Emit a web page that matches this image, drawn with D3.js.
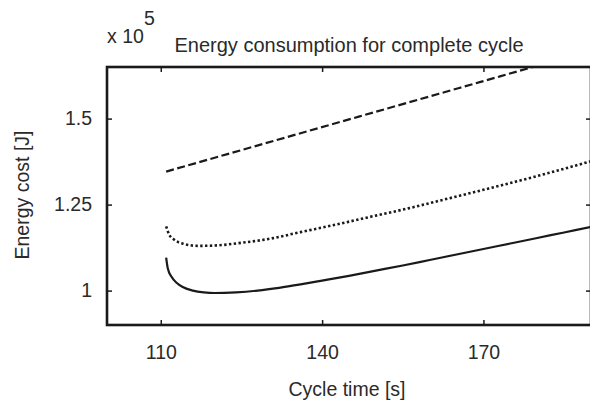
<!DOCTYPE html>
<html>
  <head>
    <meta charset="utf-8" />
    <script src="https://d3js.org/d3.v7.min.js"></script>
    <style>
      body { margin: 0; background: #fff; }
      text { font-family: "Liberation Sans", Arial, sans-serif; fill: #2a2a2a; }
    </style>
  </head>
  <body>
    <svg id="chart" width="590" height="400"></svg>
    <script>
      // cycle time [s] and energy cost [x 10^5 J]
      var solidT = [111, 111.3, 112, 113, 114, 116, 118, 120, 124, 128, 132, 136, 140, 145, 150, 155, 160, 165, 170, 175, 180, 185, 190];
      var solidE = [1.096, 1.065, 1.04, 1.022, 1.011, 1.0, 0.995, 0.993, 0.995, 1.0, 1.008, 1.018, 1.029, 1.043, 1.058, 1.073, 1.089, 1.105, 1.121, 1.137, 1.153, 1.169, 1.185];

      var dottedT = [111, 111.5, 112.5, 114, 117, 120, 125, 130, 136, 142, 150, 156, 162, 170, 180, 190];
      var dottedE = [1.187, 1.165, 1.148, 1.137, 1.130, 1.131, 1.139, 1.150, 1.170, 1.190, 1.218, 1.239, 1.262, 1.293, 1.333, 1.376];

      var dashedT = [111, 154.5, 179.2, 190];
      var dashedE = [1.346, 1.54, 1.65, 1.698];

      var xTicks = [110, 140, 170];
      var yTicks = [1, 1.25, 1.5];
      var yTickLabels = ["1", "1.25", "1.5"];

      var svg = d3.select("#chart");
      var mLeft = 107, mRight = 591, mTop = 67, mBottom = 325;
      var fs = 19.5;

      var x = d3.scaleLinear().domain([100, 190]).range([mLeft, mRight]);
      var y = d3.scaleLinear().domain([0.9, 1.65]).range([mBottom, mTop]);

      svg.append("clipPath").attr("id", "plot")
        .append("rect")
        .attr("x", mLeft).attr("y", mTop)
        .attr("width", mRight - mLeft).attr("height", mBottom - mTop);

      var line = d3.line()
        .x(function(d) { return x(d[0]); })
        .y(function(d) { return y(d[1]); })
        .curve(d3.curveMonotoneX);

      function zip(a, b) {
        return a.map(function(v, i) { return [v, b[i]]; });
      }

      var series = [
        { pts: zip(solidT, solidE), dash: null, w: 2.2 },
        { pts: zip(dottedT, dottedE), dash: "2.4,2.4", w: 2.6 },
        { pts: zip(dashedT, dashedE), dash: "8,3.5", w: 2.2 }
      ];

      svg.append("g").attr("clip-path", "url(#plot)")
        .selectAll("path")
        .data(series)
        .enter().append("path")
        .attr("d", function(d) { return line(d.pts); })
        .attr("fill", "none")
        .attr("stroke", "#1a1a1a")
        .attr("stroke-width", function(d) { return d.w; })
        .attr("stroke-dasharray", function(d) { return d.dash; });

      // axes (ticks pointing inward, box style)
      var tickLen = 5;
      var bottomAxis = d3.axisBottom(x).tickValues(xTicks).tickSize(-tickLen).tickPadding(20).tickFormat(d3.format("d"));
      var topAxis = d3.axisTop(x).tickValues(xTicks).tickSize(-tickLen).tickFormat("");
      var leftAxis = d3.axisLeft(y).tickValues(yTicks).tickSize(-tickLen).tickPadding(15)
        .tickFormat(function(d, i) { return yTickLabels[i]; });
      var rightAxis = d3.axisRight(y).tickValues(yTicks).tickSize(-tickLen).tickFormat("");

      function style(g) {
        g.select(".domain").remove();
        g.selectAll(".tick line").attr("stroke", "#1a1a1a").attr("stroke-width", 1.5);
        g.selectAll(".tick text").attr("font-size", fs).attr("font-family", "Liberation Sans, Arial, sans-serif").attr("fill", "#2a2a2a");
      }

      svg.append("g").attr("transform", "translate(0," + mBottom + ")").call(bottomAxis).call(style);
      svg.append("g").attr("transform", "translate(0," + mTop + ")").call(topAxis).call(style);
      svg.append("g").attr("transform", "translate(" + mLeft + ",0)").call(leftAxis).call(style);
      svg.append("g").attr("transform", "translate(" + mRight + ",0)").call(rightAxis).call(style);

      svg.append("rect")
        .attr("x", mLeft).attr("y", mTop)
        .attr("width", mRight - mLeft).attr("height", mBottom - mTop)
        .attr("fill", "none")
        .attr("stroke", "#1a1a1a")
        .attr("stroke-width", 2.6);

      // texts
      svg.append("text")
        .attr("x", 349).attr("y", 52)
        .attr("text-anchor", "middle")
        .attr("font-size", 20)
        .text("Energy consumption for complete cycle");

      svg.append("text")
        .attr("x", 347).attr("y", 396)
        .attr("text-anchor", "middle")
        .attr("font-size", fs)
        .text("Cycle time [s]");

      svg.append("text")
        .attr("transform", "translate(29,195) rotate(-90)")
        .attr("text-anchor", "middle")
        .attr("font-size", fs)
        .text("Energy cost [J]");

      svg.append("text")
        .attr("x", 107).attr("y", 43)
        .attr("font-size", fs)
        .text("x 10");
      svg.append("text")
        .attr("x", 144).attr("y", 25)
        .attr("font-size", fs)
        .text("5");
    </script>
  </body>
</html>
